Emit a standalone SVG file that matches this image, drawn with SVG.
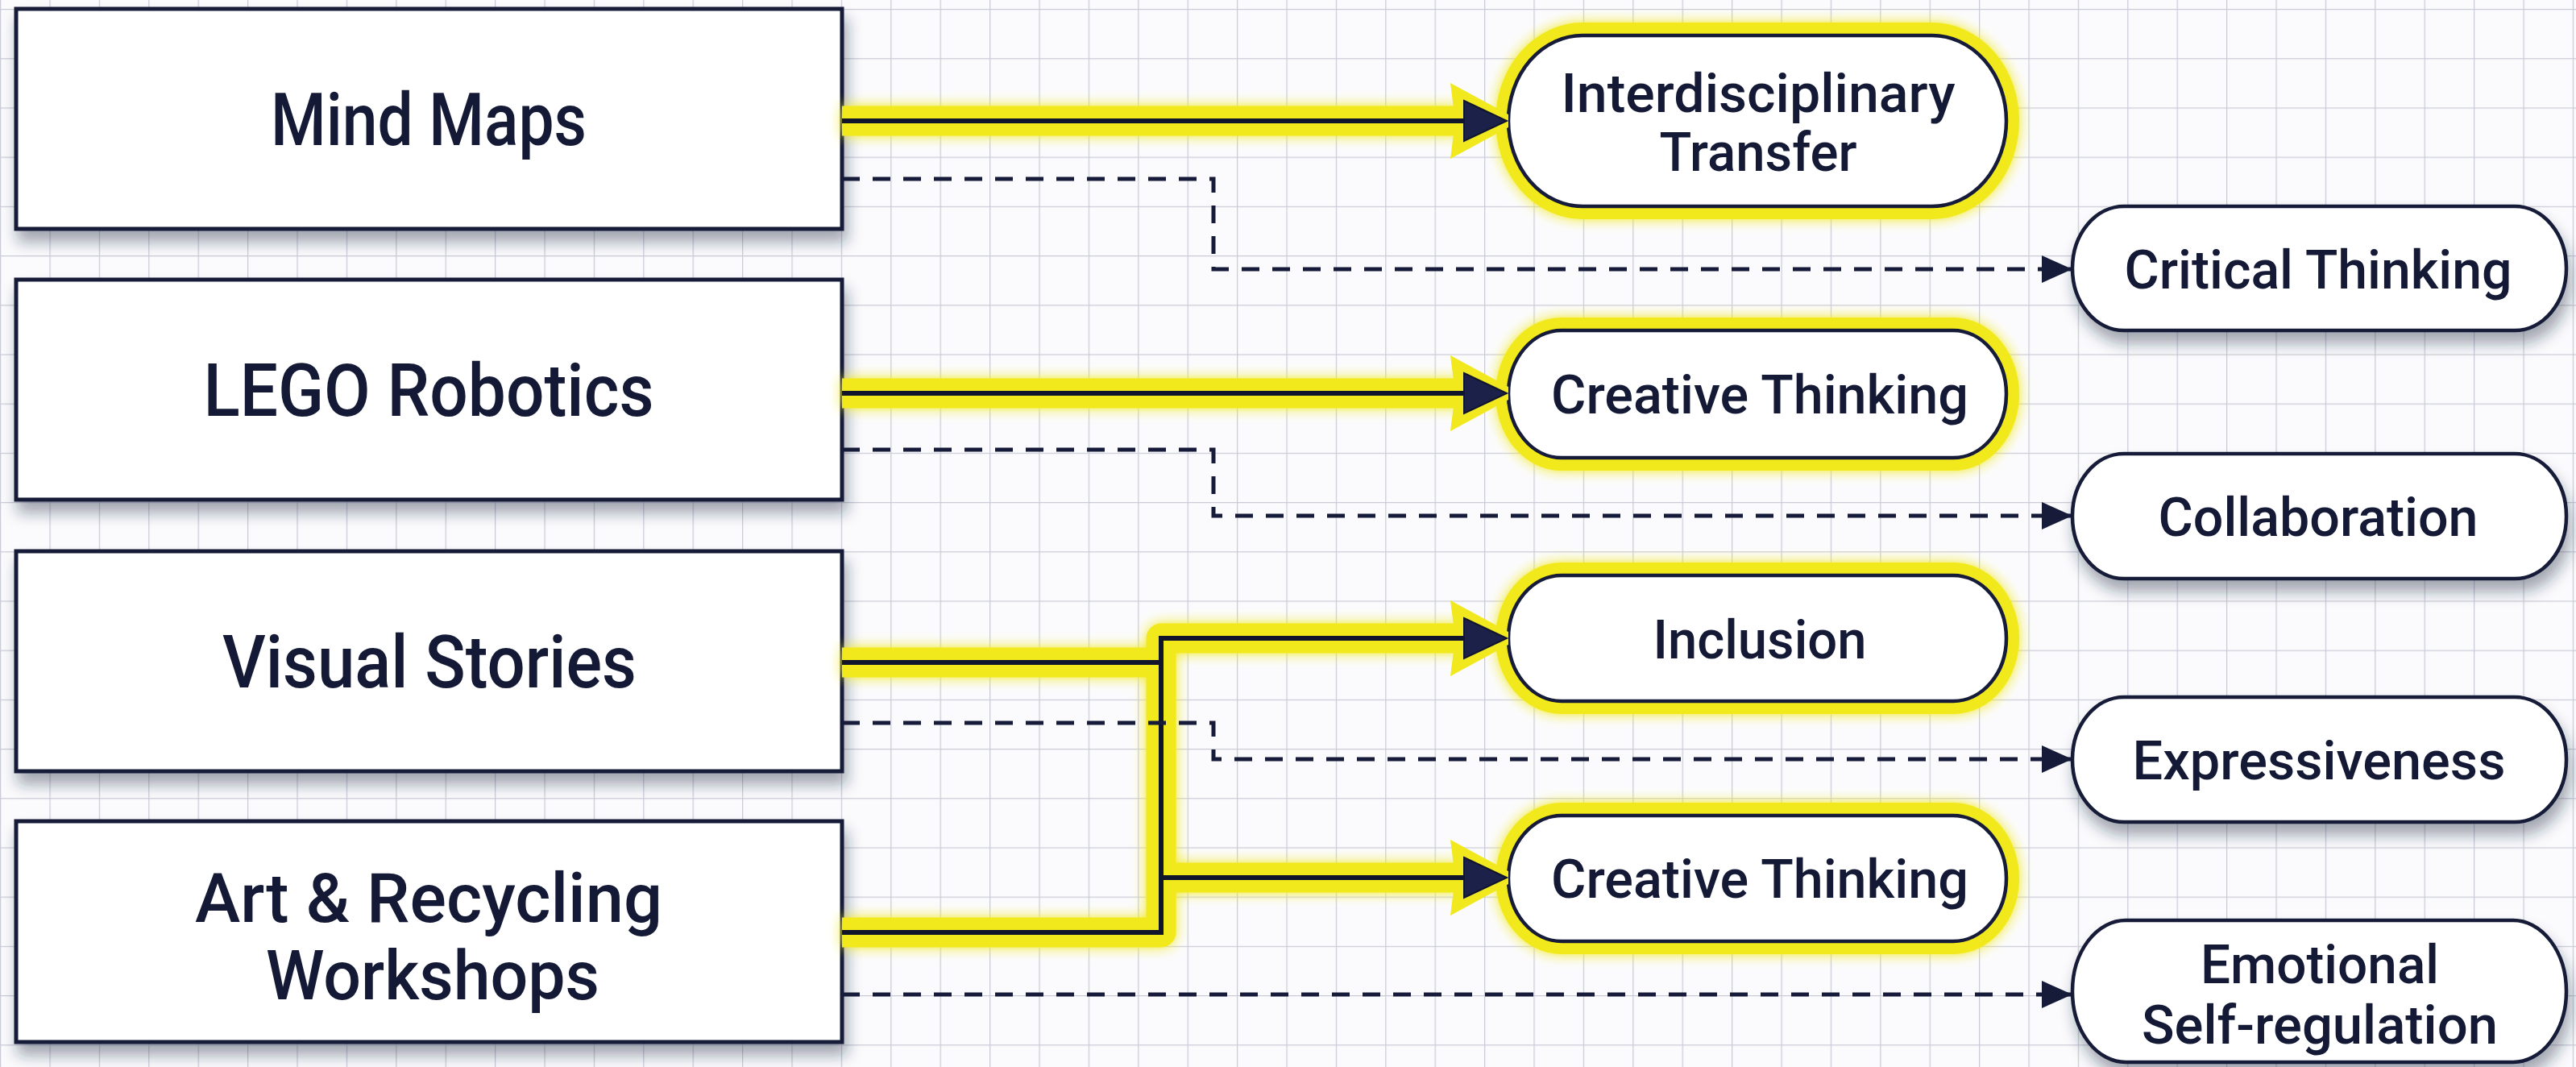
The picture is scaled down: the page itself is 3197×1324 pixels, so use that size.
<svg xmlns="http://www.w3.org/2000/svg" width="3197" height="1324" viewBox="0 0 3197 1324">
<defs>
<pattern id="grid" x="0" y="11" width="61.4" height="61.2" patternUnits="userSpaceOnUse">
<path d="M0 0V61.2M0 0H61.4" stroke="#cacbd8" stroke-width="2.5" fill="none"/>
</pattern>
<filter id="shadow" x="-10%" y="-20%" width="130%" height="160%">
<feDropShadow dx="4" dy="14" stdDeviation="9" flood-color="#1a2040" flood-opacity="0.4"/>
</filter>
<filter id="glow" x="-20%" y="-40%" width="140%" height="180%">
<feGaussianBlur in="SourceGraphic" stdDeviation="8" result="b"/>
<feMerge><feMergeNode in="b"/><feMergeNode in="SourceGraphic"/></feMerge>
</filter>
<marker id="dhead" markerUnits="userSpaceOnUse" markerWidth="40" markerHeight="36" refX="38" refY="17" orient="auto">
<path d="M0 0L38 17L0 34Z" fill="#151b38"/>
</marker>
<style>
.box{fill:#fff;stroke:#151b38;stroke-width:5}
.pill{fill:#fff;stroke:#151b38;stroke-width:4.5}
.ring{fill:none;stroke:#f1e91e;stroke-width:32}
.lbl{font-family:Roboto,"Liberation Sans",sans-serif;font-weight:500;fill:#141a36;text-anchor:middle}
.big{font-size:90px}
.mid{font-size:86px}
.sm{font-size:67px}
.glowline{fill:none;stroke:#f1e91e;stroke-width:37;stroke-linejoin:round}
.core{fill:none;stroke:#10152b;stroke-width:6}
.dash{fill:none;stroke:#151b38;stroke-width:5;stroke-dasharray:22 16}
.ahy{fill:#f1e91e}
.ahn{fill:#1b2148;stroke:#10152b;stroke-width:2}
</style>
</defs>
<rect width="3197" height="1324" fill="#fbfbfd"/>
<rect width="3197" height="1324" fill="url(#grid)"/>

<g id="node-mind-maps">
<rect class="box" x="20" y="11" width="1025" height="273" filter="url(#shadow)"/>
<text class="lbl big" x="532" y="180" textLength="392" lengthAdjust="spacingAndGlyphs">Mind Maps</text>
</g>
<g id="node-lego-robotics">
<rect class="box" x="20" y="347" width="1025" height="273" filter="url(#shadow)"/>
<text class="lbl big" x="532" y="516" textLength="559" lengthAdjust="spacingAndGlyphs">LEGO Robotics</text>
</g>
<g id="node-visual-stories">
<rect class="box" x="20" y="684" width="1025" height="273" filter="url(#shadow)"/>
<text class="lbl big" x="533" y="853" textLength="514" lengthAdjust="spacingAndGlyphs">Visual Stories</text>
</g>
<g id="node-art-recycling">
<rect class="box" x="20" y="1019" width="1025" height="274" filter="url(#shadow)"/>
<text class="lbl mid" x="532" y="1144" textLength="580" lengthAdjust="spacingAndGlyphs">Art &amp; Recycling</text>
<text class="lbl mid" x="537" y="1240" textLength="414" lengthAdjust="spacingAndGlyphs">Workshops</text>
</g>

<g id="node-interdisciplinary">
<rect class="ring" x="1872" y="44" width="618" height="212" rx="92" ry="106" filter="url(#glow)"/>
<rect class="pill" x="1872" y="44" width="618" height="212" rx="92" ry="106"/>
<text class="lbl sm" x="2182" y="139" textLength="489" lengthAdjust="spacingAndGlyphs">Interdisciplinary</text>
<text class="lbl sm" x="2182" y="212" textLength="245" lengthAdjust="spacingAndGlyphs">Transfer</text>
</g>
<g id="node-creative-1">
<rect class="ring" x="1872" y="410" width="618" height="158" rx="66" ry="79" filter="url(#glow)"/>
<rect class="pill" x="1872" y="410" width="618" height="158" rx="66" ry="79"/>
<text class="lbl sm" x="2184" y="513" textLength="518" lengthAdjust="spacingAndGlyphs">Creative Thinking</text>
</g>
<g id="node-inclusion">
<rect class="ring" x="1872" y="714" width="618" height="156" rx="66" ry="78" filter="url(#glow)"/>
<rect class="pill" x="1872" y="714" width="618" height="156" rx="66" ry="78"/>
<text class="lbl sm" x="2184" y="817" textLength="265" lengthAdjust="spacingAndGlyphs">Inclusion</text>
</g>
<g id="node-creative-2">
<rect class="ring" x="1872" y="1012" width="618" height="156" rx="66" ry="78" filter="url(#glow)"/>
<rect class="pill" x="1872" y="1012" width="618" height="156" rx="66" ry="78"/>
<text class="lbl sm" x="2184" y="1114" textLength="518" lengthAdjust="spacingAndGlyphs">Creative Thinking</text>
</g>

<g id="node-critical-thinking">
<rect class="pill" x="2572" y="256" width="613" height="154" rx="64" ry="77" filter="url(#shadow)"/>
<text class="lbl sm" x="2877" y="358" textLength="481" lengthAdjust="spacingAndGlyphs">Critical Thinking</text>
</g>
<g id="node-collaboration">
<rect class="pill" x="2572" y="563" width="613" height="155" rx="64" ry="77" filter="url(#shadow)"/>
<text class="lbl sm" x="2877" y="665" textLength="397" lengthAdjust="spacingAndGlyphs">Collaboration</text>
</g>
<g id="node-expressiveness">
<rect class="pill" x="2572" y="865" width="613" height="155" rx="64" ry="77" filter="url(#shadow)"/>
<text class="lbl sm" x="2878" y="967" textLength="463" lengthAdjust="spacingAndGlyphs">Expressiveness</text>
</g>
<g id="node-emotional">
<rect class="pill" x="2572" y="1142" width="613" height="176" rx="66" ry="88" filter="url(#shadow)"/>
<text class="lbl sm" x="2879" y="1220" textLength="296" lengthAdjust="spacingAndGlyphs">Emotional</text>
<text class="lbl sm" x="2879" y="1295" textLength="442" lengthAdjust="spacingAndGlyphs">Self-regulation</text>
</g>

<g id="connectors">
<path class="glowline" d="M1045 150H1815M1045 488H1815M1045 1157H1441V792H1815M1045 822H1441M1441 1089H1815" filter="url(#glow)"/>
<polygon class="ahy" points="1872,142 1800,103 1806,150 1800,197 1872,158"/>
<polygon class="ahy" points="1872,480 1800,441 1806,488 1800,535 1872,496"/>
<polygon class="ahy" points="1872,784 1800,745 1806,792 1800,839 1872,800"/>
<polygon class="ahy" points="1872,1081 1800,1042 1806,1089 1800,1136 1872,1097"/>
<path class="core" d="M1045 150H1820M1045 488H1820M1045 1157H1441V792H1820M1045 822H1441M1441 1089H1820"/>
<polygon class="ahn" points="1817,125 1870,150 1817,175"/>
<polygon class="ahn" points="1817,463 1870,488 1817,513"/>
<polygon class="ahn" points="1817,767 1870,792 1817,817"/>
<polygon class="ahn" points="1817,1064 1870,1089 1817,1114"/>
<path class="dash" d="M1045 222H1506V334H2572" marker-end="url(#dhead)"/>
<path class="dash" d="M1045 558H1506V640H2572" marker-end="url(#dhead)"/>
<path class="dash" d="M1045 897H1506V942H2572" marker-end="url(#dhead)"/>
<path class="dash" d="M1045 1234H2572" marker-end="url(#dhead)"/>
</g>
</svg>
